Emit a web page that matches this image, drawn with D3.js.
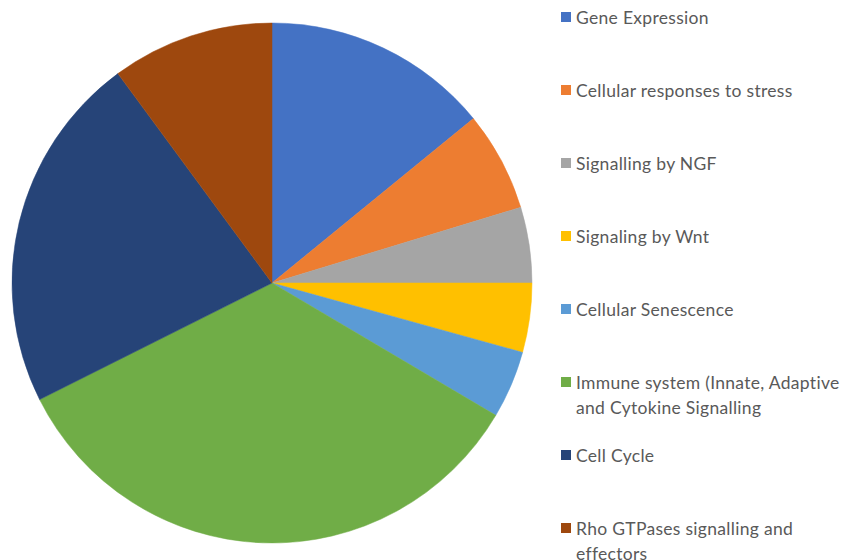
<!DOCTYPE html>
<html>
<head>
<meta charset="utf-8">
<script src="https://cdn.jsdelivr.net/npm/d3@7"></script>
<style>
  html, body { margin: 0; padding: 0; background: #fff; }
  svg { display: block; }
</style>
</head>
<body>
<svg id="chart" width="857" height="560"></svg>
<script>
const categories = [
  "Gene Expression",
  "Cellular responses to stress",
  "Signalling by NGF",
  "Signaling by Wnt",
  "Cellular Senescence",
  "Immune system (Innate, Adaptive|and Cytokine Signalling",
  "Cell Cycle",
  "Rho GTPases signalling and|effectors"
];
const values = [14.1, 6.2, 4.7, 4.3, 4.2, 34.1, 22.3, 10.1];
const colors = ["#4472C4", "#ED7D31", "#A5A5A5", "#FFC000", "#5B9BD5", "#70AD47", "#264478", "#9E480E"];

const data = categories.map((c, i) => ({ label: c, value: values[i], color: colors[i] }));

const svg = d3.select("#chart");
const cx = 272, cy = 283, radius = 260;

const pie = d3.pie().value(d => d.value).sort(null);
const arc = d3.arc().innerRadius(0).outerRadius(radius);

svg.append("g")
  .attr("transform", `translate(${cx},${cy})`)
  .selectAll("path")
  .data(pie(data))
  .join("path")
  .attr("d", arc)
  .attr("fill", d => d.data.color)
  .attr("stroke", d => d.data.color)
  .attr("stroke-width", 0.5);

const legendY = d3.scalePoint()
  .domain(categories)
  .range([17, 528]);

const lg = svg.append("g").attr("font-family", "Lato, 'Open Sans', sans-serif")
  .attr("font-size", 17.5).attr("letter-spacing", 0.3).attr("fill", "#595959");

const items = lg.selectAll("g").data(data).join("g")
  .attr("transform", d => `translate(561,${legendY(d.label)})`);

items.append("rect")
  .attr("x", 0).attr("y", -5).attr("width", 10).attr("height", 10)
  .attr("fill", d => d.color);

items.append("text")
  .attr("x", 15)
  .attr("y", 0)
  .attr("dominant-baseline", "central")
  .selectAll("tspan")
  .data(d => d.label.split("|"))
  .join("tspan")
  .attr("x", 15)
  .attr("dy", (d, i) => i === 0 ? 0 : 25)
  .text(d => d);
</script>
</body>
</html>
